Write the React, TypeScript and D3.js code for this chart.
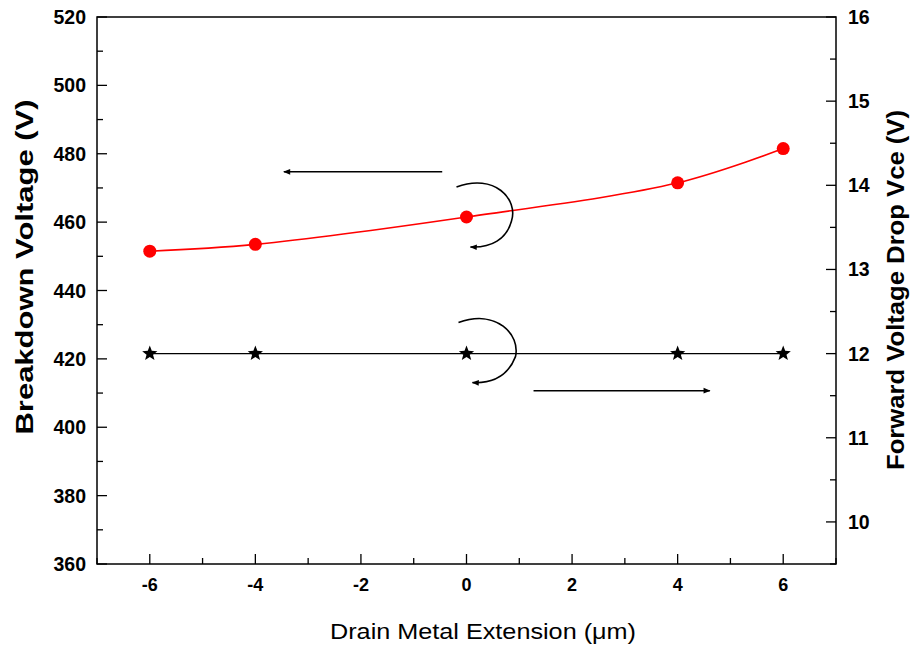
import React from "react";
import * as d3 from "d3";

const xValues = [-6, -4, 0, 4, 6];
const breakdownV = [451.5, 453.5, 461.5, 471.5, 481.5];
const forwardVce = [12, 12, 12, 12, 12];
const xTicks = [-6, -4, -2, 0, 2, 4, 6];
const xMinor = [-7, -5, -3, -1, 1, 3, 5, 7];
const leftTicks = [360, 380, 400, 420, 440, 460, 480, 500, 520];
const leftMinor = [370, 390, 410, 430, 450, 470, 490, 510];
const rightTicks = [10, 11, 12, 13, 14, 15, 16];
const rightMinor = [9.5, 10.5, 11.5, 12.5, 13.5, 14.5, 15.5];

const W = 910, H = 647;
const L = 97, R = 836, T = 17, B = 564;
const FONT = "'Liberation Sans', Arial, sans-serif";

function starPath(cx: number, cy: number, ro: number, ri: number) {
  const pts: string[] = [];
  for (let i = 0; i < 10; i++) {
    const r = i % 2 === 0 ? ro : ri;
    const a = -Math.PI / 2 + (i * Math.PI) / 5;
    pts.push(`${(cx + r * Math.cos(a)).toFixed(2)},${(cy + r * Math.sin(a)).toFixed(2)}`);
  }
  return "M" + pts.join("L") + "Z";
}

export default function App() {
  const x = d3.scaleLinear().domain([-7, 7]).range([L, R]);
  const yL = d3.scaleLinear().domain([360, 520]).range([B, T]);
  const yR = d3.scaleLinear().domain([9.5, 16]).range([B, T]);

  const redLine = d3
    .line<number>()
    .x((_, i) => x(xValues[i]))
    .y((d) => yL(d))
    .curve(d3.curveCatmullRom.alpha(0.5))(breakdownV) as string;
  const blackLine = d3
    .line<number>()
    .x((_, i) => x(xValues[i]))
    .y((d) => yR(d))(forwardVce) as string;

  const majorLen = 10, minorLen = 6;

  const a1x = x(0), a1y = yL(461.5);
  const a2x = x(0), a2y = yR(12);
  const curl = (cx: number, cy: number, dr: number) =>
    `M${cx - 10},${cy - 30} C${cx + 28},${cy - 44} ${cx + 52},${cy - 18} ${cx + 45 + dr},${cy + 4} C${cx + 40},${cy + 22} ${cx + 25},${cy + 31} ${cx + 4},${cy + 30}`;

  return (
    <svg
      width={W}
      height={H}
      style={{ position: "absolute", left: 0, top: 0, background: "#fff" }}
      fontFamily={FONT}
    >
      <defs>
        <marker id="ah" viewBox="0 0 10 10" refX="9" refY="5" markerWidth="9" markerHeight="7" markerUnits="userSpaceOnUse" orient="auto">
          <path d="M0,1 L10,5 L0,9 Z" fill="#000" />
        </marker>
      </defs>
      <rect x={0} y={0} width={W} height={H} fill="#fff" />

      <rect x={L} y={T} width={R - L} height={B - T} fill="none" stroke="#000" strokeWidth={1.5} />

      {xTicks.map((t) => (
        <g key={"xt" + t}>
          <line x1={x(t)} x2={x(t)} y1={B} y2={B - majorLen} stroke="#000" strokeWidth={1.3} />
          <text x={x(t)} y={B + 27} textAnchor="middle" fontSize={18} fontWeight="bold">
            {t}
          </text>
        </g>
      ))}
      {xMinor.map((t) => (
        <line key={"xm" + t} x1={x(t)} x2={x(t)} y1={B} y2={B - minorLen} stroke="#000" strokeWidth={1.3} />
      ))}

      {leftTicks.map((t) => (
        <g key={"lt" + t}>
          <line x1={L} x2={L + majorLen} y1={yL(t)} y2={yL(t)} stroke="#000" strokeWidth={1.3} />
          <text x={L - 11} y={yL(t) + 7} textAnchor="end" fontSize={19.5} fontWeight="bold">
            {t}
          </text>
        </g>
      ))}
      {leftMinor.map((t) => (
        <line key={"lm" + t} x1={L} x2={L + minorLen} y1={yL(t)} y2={yL(t)} stroke="#000" strokeWidth={1.3} />
      ))}

      {rightTicks.map((t) => (
        <g key={"rt" + t}>
          <line x1={R} x2={R - majorLen} y1={yR(t)} y2={yR(t)} stroke="#000" strokeWidth={1.3} />
          <text x={R + 12} y={yR(t) + 7} textAnchor="start" fontSize={19.5} fontWeight="bold">
            {t}
          </text>
        </g>
      ))}
      {rightMinor.map((t) => (
        <line key={"rm" + t} x1={R} x2={R - minorLen} y1={yR(t)} y2={yR(t)} stroke="#000" strokeWidth={1.3} />
      ))}

      <text
        transform={`translate(33,267) rotate(-90)`}
        textAnchor="middle"
        fontSize={23}
        fontWeight="bold"
        textLength={335}
        lengthAdjust="spacingAndGlyphs"
      >
        Breakdown Voltage (V)
      </text>
      <text
        transform={`translate(904,290) rotate(-90)`}
        textAnchor="middle"
        fontSize={23}
        fontWeight="bold"
        textLength={360}
        lengthAdjust="spacingAndGlyphs"
      >
        Forward Voltage Drop Vce (V)
      </text>
      <text x={483} y={639} textAnchor="middle" fontSize={22} textLength={306} lengthAdjust="spacingAndGlyphs">
        Drain Metal Extension (μm)
      </text>

      <path d={redLine} fill="none" stroke="#ff0000" strokeWidth={1.6} />
      {breakdownV.map((v, i) => (
        <circle key={"c" + i} cx={x(xValues[i])} cy={yL(v)} r={6.5} fill="#ff0000" />
      ))}
      <path d={blackLine} fill="none" stroke="#000" strokeWidth={1.3} />
      {forwardVce.map((v, i) => (
        <path key={"s" + i} d={starPath(x(xValues[i]), yR(v), 8, 3.4)} fill="#000" />
      ))}

      <line x1={x(-0.46)} x2={x(-3.46)} y1={yL(474.7)} y2={yL(474.7)} stroke="#000" strokeWidth={1.5} markerEnd="url(#ah)" />
      <line x1={x(1.27)} x2={x(4.61)} y1={yR(11.56)} y2={yR(11.56)} stroke="#000" strokeWidth={1.5} markerEnd="url(#ah)" />
      <path d={curl(a1x, a1y, 0)} fill="none" stroke="#000" strokeWidth={1.6} markerEnd="url(#ah)" />
      <path d={curl(a2x + 2, a2y - 1, 2)} fill="none" stroke="#000" strokeWidth={1.6} markerEnd="url(#ah)" />
    </svg>
  );
}
